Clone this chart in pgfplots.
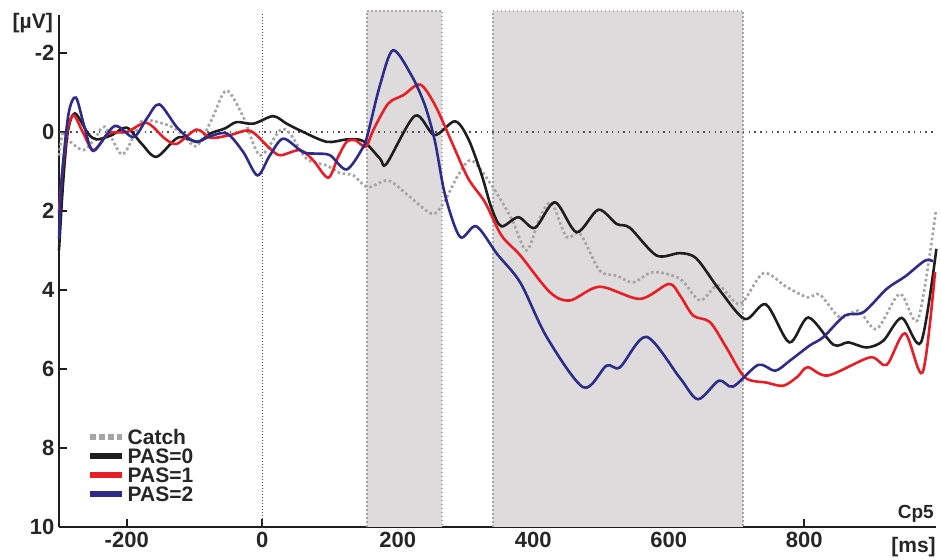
\documentclass[border=0pt]{standalone}
\usepackage{fontspec}
\setmainfont{Liberation Sans}
\usepackage{pgfplots}
\pgfplotsset{compat=1.18}
\definecolor{pasblue}{RGB}{46,44,138}
\definecolor{pasred}{RGB}{232,30,38}
\definecolor{pasblack}{RGB}{30,30,30}
\definecolor{catchgray}{RGB}{165,165,165}
\definecolor{shade}{RGB}{221,219,219}
\definecolor{txt}{RGB}{38,38,38}
\definecolor{zeroline}{RGB}{80,80,80}

\begin{document}
\begin{tikzpicture}
\begin{axis}[
  at={(59pt,32.3pt)}, anchor=south west,
  scale only axis, width=877.4pt, height=511.2pt,
  xmin=-300, xmax=995, ymin=-2.95, ymax=10,
  y dir=reverse,
  axis lines=left,
  axis line style={-, line width=2.4pt, color=pasblack},
  xtick={-200,0,...,800}, ytick={-2,0,...,10},
  tick align=inside, major tick length=8pt,
  tick style={line width=2pt, color=pasblack},
  /pgf/number format/assume math mode=true,
  tick label style={font=\fontsize{22}{22}\selectfont\bfseries, text=txt},
  xticklabel style={yshift=-2pt},
  yticklabel style={xshift=-1pt},
  clip=false,
  legend style={at={(0.0325,0.190)}, anchor=north west, draw=none, fill=none,
    font=\fontsize{21}{21}\selectfont\bfseries, text=txt,
    inner sep=0pt, row sep=4pt, column sep=2.5pt,
    nodes={inner sep=0pt, text height=15pt, text depth=0pt}},
  legend cell align=left,
  legend image code/.code={\draw[#1, line width=5.5pt] (0pt,0.3pt) -- (32pt,0.3pt);},
]
% analysis windows
\addplot[fill=shade, draw=none, forget plot] coordinates {(155,-3.07) (266,-3.07) (266,10) (155,10)} -- cycle;
\addplot[fill=shade, draw=none, forget plot] coordinates {(340,-3.07) (710,-3.07) (710,10) (340,10)} -- cycle;
\addplot[catchgray, line width=2pt, dash pattern=on 1.8pt off 2.2pt, forget plot] coordinates {(155,10) (155,-3.07) (266,-3.07) (266,10)};
\addplot[catchgray, line width=2pt, dash pattern=on 1.8pt off 2.2pt, forget plot] coordinates {(340,10) (340,-3.07) (710,-3.07) (710,10)};
% zero references
\addplot[zeroline, line width=1.4pt, dash pattern=on 1.4pt off 4.3pt, forget plot] coordinates {(-300,0) (995,0)};
\addplot[zeroline, line width=1.1pt, dash pattern=on 1pt off 2pt, forget plot] coordinates {(0,-3.0) (0,10)};

% Catch
\addplot[catchgray, line width=2.7pt, dash pattern=on 2.6pt off 2.6pt, smooth,
  legend image code/.code={\draw[catchgray, line width=5.5pt, dash pattern=on 6pt off 2.7pt] (0pt,0.3pt) -- (32pt,0.3pt);}]
coordinates {
(-300,0.6) (-294,0.0) (-286,0.21) (-264,0.46) (-247,0.17) (-232,-0.13) (-207.5,0.57)
(-188,0.04) (-175.6,-0.30) (-138.7,-0.17) (-119,0.04) (-97,0.36) (-75,-0.30) (-53,-1.05)
(-28,-0.38) (-3.4,0.59) (26,-0.04) (41,0.04) (65.5,0.68) (95,0.85) (114.7,1.04) (134.3,1.10)
(156,1.40) (186,1.23) (215.5,1.61) (250,2.07) (267,1.82) (289,1.10) (309,0.72) (338.6,1.35)
(368,2.2) (390,3.00) (410,2.16) (427,1.80) (449,2.66) (469,2.58) (498,3.51) (523,3.64)
(547.6,3.81) (577,3.55) (616.5,3.72) (646,4.27) (673,3.89) (705,4.36) (739.5,3.58) (774,3.93)
(805,4.19) (823,4.12) (852.7,4.70) (879.7,4.53) (906.8,4.99) (941,4.10) (968,4.74) (994,2.03)
};
\addlegendentry{Catch}

% PAS=0
\addplot[pasblack, line width=2.6pt, smooth] coordinates {
(-300,3.0) (-294,1.3) (-287,0.0) (-276.5,-0.47) (-257,0.04) (-244.5,0.19) (-222,0.08)
(-200,-0.11) (-178,0.30) (-156,0.63) (-124,0.14) (-94.5,0.25) (-77,0.04) (-55,-0.09)
(-38,-0.25) (-13,-0.21) (16,-0.40) (36,-0.21) (55.6,-0.04) (95,0.25) (124.6,0.19) (149,0.23)
(174,0.68) (183.6,0.80) (225.4,-0.41) (254,0.08) (284.4,-0.27) (304,0.17) (324,1.10)
(338.6,1.94) (353,2.39) (378,2.16) (402.5,2.43) (432,1.78) (464,2.54) (496,1.97) (523,2.33)
(542.7,2.43) (582,3.13) (616.5,3.07) (641,3.21) (675.6,4.02) (712.5,4.74) (743.5,4.37)
(778,5.33) (806,4.70) (843,5.39) (865,5.33) (892,5.46) (916.6,5.29) (943.8,4.71) (972.3,5.33)
(995,2.96)
};
\addlegendentry{PAS=0}

% PAS=1
\addplot[pasred, line width=2.6pt, smooth] coordinates {
(-300,2.0) (-295,1.0) (-287,-0.1) (-278,-0.42) (-265,0.0) (-249,0.46) (-227,0.04) (-200,0.0)
(-170.6,-0.23) (-143.6,0.17) (-126,0.30) (-97,-0.06) (-76,0.15) (-47.7,0.08) (-18,-0.03)
(9,0.38) (26,0.59) (55.6,0.46) (75.3,0.72) (97.4,1.16) (112,0.63) (124.6,0.25) (137,0.21)
(146,0.32) (154,0.36) (164,-0.05) (186,-0.72) (208,-0.93) (233,-1.20) (255,-0.68) (279.5,0.25)
(304,1.18) (328.7,1.78) (353,2.62) (381,3.13) (424.6,4.06) (454,4.27) (498,3.92) (557.5,4.23)
(600,3.85) (616.5,4.14) (636,4.65) (661,4.82) (685,5.46) (712.5,6.22) (744.5,6.35) (769,6.43)
(790,6.2) (805,5.96) (835,6.17) (897,5.71) (921.6,5.90) (948.6,5.10) (974.7,6.09) (993,3.55)
};
\addlegendentry{PAS=1}

% PAS=2
\addplot[pasblue, line width=2.6pt, smooth] coordinates {
(-300,2.7) (-296,1.2) (-286,-0.45) (-275,-0.87) (-262,-0.1) (-249,0.48) (-218,-0.15)
(-190,0.13) (-170,-0.35) (-152,-0.70) (-125,-0.1) (-99,0.25) (-77,0.11) (-52,0.04) (-28,0.51)
(-7,1.10) (11,0.6) (31,0.17) (60,0.51) (80,0.55) (100,0.59) (124.6,0.95) (149,0.38) (156.5,0.0)
(174,-1.2) (193,-2.07) (220,-1.44) (240,-0.68) (255,0.25) (270,1.61) (292,2.66) (316,2.39)
(347,3.1) (381,3.82) (420,5.20) (474,6.47) (508,5.92) (528,5.96) (567,5.19) (616,6.22)
(643,6.77) (674,6.30) (695,6.45) (732,5.90) (757,6.05) (779,5.79) (808,5.41) (828,5.20)
(860,4.65) (887,4.57) (922,3.97) (949,3.66) (978,3.26) (990,3.28)
};
\addlegendentry{PAS=2}
\end{axis}

% unit and channel labels
\node[anchor=west, inner sep=0pt, font=\fontsize{21}{21}\selectfont\bfseries, text=txt] at (12.5pt,535.5pt) {[µV]};
\node[anchor=center, inner sep=0pt, font=\fontsize{21}{21}\selectfont\bfseries, text=txt] at (913.5pt,12pt) {[ms]};
\node[anchor=base east, inner sep=0pt, font=\fontsize{19}{19}\selectfont\bfseries, text=txt] at (934pt,41pt) {Cp5};

\pgfresetboundingbox
\path[use as bounding box] (0pt,0pt) rectangle (941pt,559pt);
\end{tikzpicture}
\end{document}
